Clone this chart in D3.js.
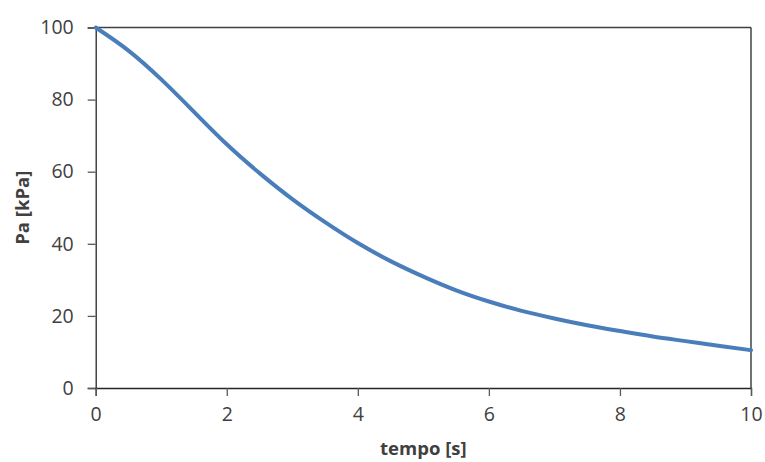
<!DOCTYPE html>
<html>
<head>
<meta charset="utf-8">
<script src="https://cdn.jsdelivr.net/npm/d3@7"></script>
<style>
  html, body { margin: 0; padding: 0; background: #fff; }
  svg { display: block; }
  text { font-family: "Open Sans", sans-serif; fill: #404040; }
</style>
</head>
<body>
<svg id="chart" width="765" height="462"></svg>
<script>
// Pressure decay over time
const tempo = [0, 0.5, 1, 1.5, 2, 2.5, 3, 3.5, 4, 4.5, 5, 5.5, 6, 6.5, 7, 7.5, 8, 8.5, 9, 9.5, 10];
const pa = [100, 93.6, 85.6, 76.6, 67.6, 59.6, 52.4, 46, 40.2, 35.2, 30.9, 27.1, 24, 21.4, 19.3, 17.4, 15.8, 14.3, 13, 11.7, 10.5];
const xTicks = [0, 2, 4, 6, 8, 10];
const yTicks = [0, 20, 40, 60, 80, 100];

const svg = d3.select("#chart");
const margin = { left: 95.7, right: 14, top: 27.5, bottom: 74 };
const W = 765, H = 462;

const x = d3.scaleLinear().domain([0, 10]).range([margin.left, W - margin.right]);
const y = d3.scaleLinear().domain([0, 100]).range([H - margin.bottom, margin.top]);

// frame: top and right borders
svg.append("line")
  .attr("x1", x(0)).attr("x2", x(10)).attr("y1", y(100)).attr("y2", y(100))
  .attr("stroke", "#404040").attr("stroke-width", 1.3);
svg.append("line")
  .attr("x1", x(10)).attr("x2", x(10)).attr("y1", y(100)).attr("y2", y(0))
  .attr("stroke", "#262626").attr("stroke-width", 1.3);

// y axis
const yAxis = svg.append("g")
  .attr("transform", `translate(${x(0)},0)`)
  .call(d3.axisLeft(y).tickValues(yTicks).tickSize(8).tickPadding(14).tickFormat(d3.format("d")));
// x axis
const xAxis = svg.append("g")
  .attr("transform", `translate(0,${y(0)})`)
  .call(d3.axisBottom(x).tickValues(xTicks).tickSize(8).tickPadding(11).tickFormat(d3.format("d")));

[yAxis, xAxis].forEach(g => {
  g.select(".domain").attr("stroke", "#262626").attr("stroke-width", 1.3);
  g.selectAll(".tick line").attr("stroke", "#595959").attr("stroke-width", 1.3);
  g.selectAll(".tick text")
    .style("font-family", "'Open Sans', sans-serif")
    .style("font-size", "19.5px")
    .attr("fill", "#333");
});

// curve
const pts = tempo.map((t, i) => [t, pa[i]]);
svg.append("path")
  .datum(pts)
  .attr("fill", "none")
  .attr("stroke", "#4a7ebb")
  .attr("stroke-width", 4)
  .attr("stroke-linecap", "round")
  .attr("d", d3.line().x(d => x(d[0])).y(d => y(d[1])).curve(d3.curveNatural));

// axis titles
svg.append("text")
  .attr("x", (x(0) + x(10)) / 2).attr("y", 455)
  .attr("text-anchor", "middle")
  .style("font-weight", "bold").style("font-size", "18.5px")
  .attr("fill", "#111")
  .text("tempo [s]");
svg.append("text")
  .attr("transform", `translate(29,${(y(0) + y(100)) / 2}) rotate(-90)`)
  .attr("text-anchor", "middle")
  .style("font-weight", "bold").style("font-size", "18.5px")
  .attr("fill", "#111")
  .text("Pa [kPa]");
</script>
</body>
</html>
